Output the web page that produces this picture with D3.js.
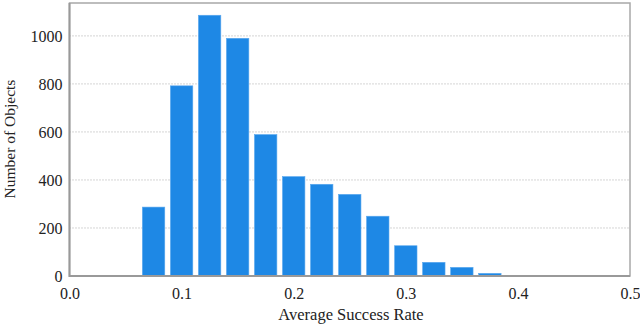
<!DOCTYPE html>
<html><head><meta charset="utf-8">
<script src="https://cdn.jsdelivr.net/npm/d3@7"></script>
<style>body{margin:0;background:#fff}svg{display:block}text{font-family:"Liberation Serif","Times New Roman",serif;fill:#222}</style>
</head><body><svg id="c" width="640" height="326"></svg>
<script>
const binCenters = [0.075,0.1,0.125,0.15,0.175,0.2,0.225,0.25,0.275,0.3,0.325,0.35,0.375];
const counts = [287,792,1086,990,589,414,382,340,249,126,57,36,11];
const xTicks = [0.0,0.1,0.2,0.3,0.4,0.5];
const yTicks = [0,200,400,600,800,1000];
const binWidth = 0.025;

const svg = d3.select("#c");
const m = {l:69.5, r:630, t:3, b:276};
const x = d3.scaleLinear().domain([0,0.5]).range([m.l,m.r]);
const y = d3.scaleLinear().domain([0,1137]).range([m.b,m.t]);

// grid
svg.append("g").selectAll("line").data(yTicks.filter(d=>d>0)).join("line")
  .attr("x1",m.l).attr("x2",m.r).attr("y1",d=>y(d)).attr("y2",d=>y(d))
  .attr("stroke","#aaa").attr("stroke-width",1).attr("stroke-dasharray","1,2");

// bars
const bw = (x(binWidth)-x(0))*0.8;
svg.append("g").selectAll("rect").data(binCenters).join("rect")
  .attr("x",(d)=>x(d)-bw/2).attr("width",bw)
  .attr("y",(d,i)=>y(counts[i])).attr("height",(d,i)=>y(0)-y(counts[i]))
  .attr("fill","#1e88e5").attr("stroke","#5aa8ee").attr("stroke-width",0.6);

// frame
svg.append("rect").attr("x",m.l).attr("y",m.t).attr("width",m.r-m.l).attr("height",m.b-m.t)
  .attr("fill","none").attr("stroke","#a8a8a8").attr("stroke-width",1.5);
svg.append("path").attr("d",`M${m.l},${m.t}V${m.b}H${m.r}`).attr("fill","none")
  .attr("stroke","#999").attr("stroke-width",2);

// axes
const xa = svg.append("g").attr("transform",`translate(0,${m.b})`)
  .call(d3.axisBottom(x).tickValues(xTicks).tickFormat(d3.format(".1f")).tickSize(0).tickPadding(12));
xa.select(".domain").remove();
xa.selectAll("text").attr("font-size",16).attr("font-family","Liberation Serif").attr("fill","#222");
const ya = svg.append("g").attr("transform",`translate(${m.l},0)`)
  .call(d3.axisLeft(y).tickValues(yTicks).tickFormat(d3.format("d")).tickSize(0).tickPadding(7));
ya.select(".domain").remove();
ya.selectAll("text").attr("font-size",16).attr("font-family","Liberation Serif").attr("fill","#222");

svg.append("text").attr("x",351).attr("y",320).attr("text-anchor","middle").attr("font-size",16.5).text("Average Success Rate");
svg.append("text").attr("transform","translate(15,139) rotate(-90)").attr("text-anchor","middle").attr("font-size",15.5).text("Number of Objects");
</script></body></html>
